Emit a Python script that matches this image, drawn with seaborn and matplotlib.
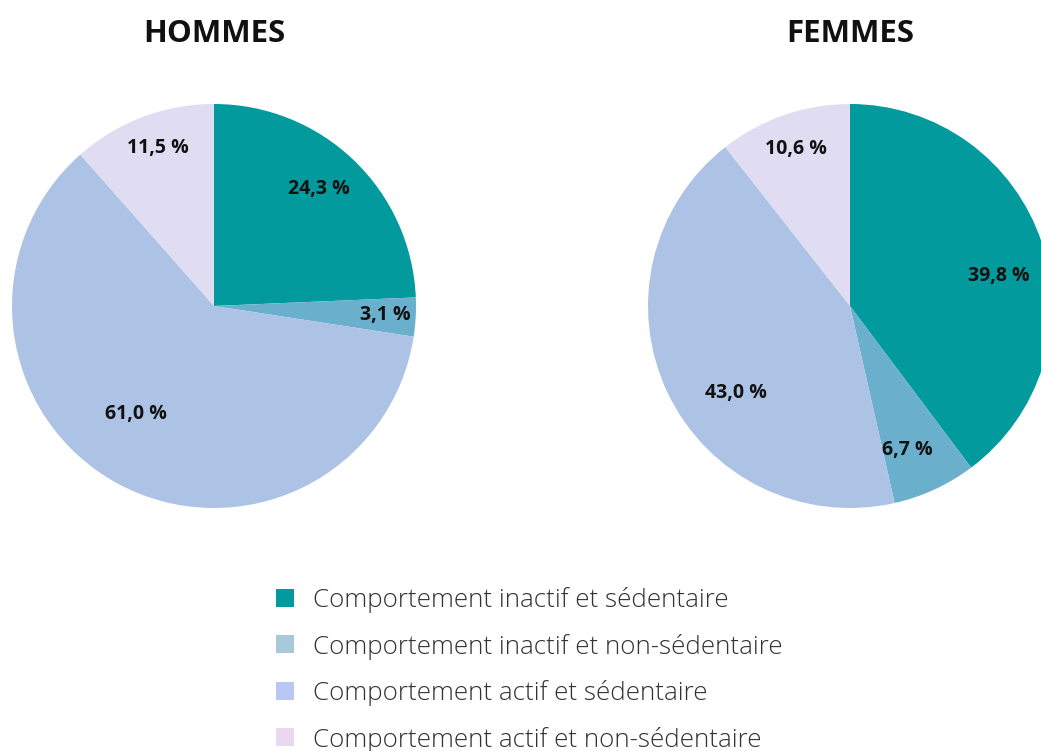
import matplotlib
matplotlib.use("Agg")
import matplotlib.pyplot as plt
import seaborn as sns
from matplotlib.patches import Patch
import numpy as np

# données
categories = ["Comportement inactif et sédentaire",
              "Comportement inactif et non-sédentaire",
              "Comportement actif et sédentaire",
              "Comportement actif et non-sédentaire"]
hommes = [24.3, 3.1, 61.0, 11.5]
femmes = [39.8, 6.7, 43.0, 10.6]
titres = ["HOMMES", "FEMMES"]

sns.set_theme(style="white")
plt.rcParams['font.family'] = ['Open Sans', 'DejaVu Sans']

pie_colors = sns.color_palette(["#039a9e", "#6aafcb", "#adc3e5", "#e0dcf2"])
legend_colors = sns.color_palette(["#029a9c", "#a8c9da", "#b9c7f5", "#ead8f0"])

# placement des étiquettes (style) : distance au centre et décalage angulaire
label_dist = [[0.78, 0.85, 0.66, 0.83], [0.75, 0.77, 0.71, 0.82]]
label_shift = [[2, 0, -7, -1], [-7, -3, 12, 0]]

W, H = 1041, 751
fig = plt.figure(figsize=(W / 100, H / 100), dpi=100)

centres_x = [214, 850]
cy, r = 306, 202


def fmt(v):
    return f"{v:.1f}".replace(".", ",") + " %"


for i, (vals, titre) in enumerate(zip([hommes, femmes], titres)):
    cx = centres_x[i]
    ax = fig.add_axes([(cx - r) / W, (H - cy - r) / H, 2 * r / W, 2 * r / H])
    wedges, _ = ax.pie(vals, colors=pie_colors, startangle=90, counterclock=False,
                       radius=1, wedgeprops=dict(linewidth=0))
    for w, v, d, s in zip(wedges, vals, label_dist[i], label_shift[i]):
        ang = np.deg2rad((w.theta1 + w.theta2) / 2 + s)
        ax.text(d * np.cos(ang), d * np.sin(ang), fmt(v), ha="center", va="center",
                fontsize=14, fontweight="bold", color="#111111")
    ax.set_xlim(-1, 1)
    ax.set_ylim(-1, 1)
    ax.set_aspect("equal")
    ax.axis("off")
    fig.text(cx / W, 1 - 33.5 / H, titre, ha="center", va="center",
             fontsize=22.5, fontweight="bold", color="#111111")

handles = [Patch(facecolor=c, edgecolor="none") for c in legend_colors]
leg = fig.legend(handles, categories, loc="upper left",
                 bbox_to_anchor=(263 / W, 1 - 574 / H), frameon=False,
                 fontsize=18.7, handlelength=0.69, handleheight=0.69,
                 handletextpad=0.73, labelspacing=0.79, borderpad=0)
for t in leg.get_texts():
    t.set_color("#333333")
    t.set_fontweight("light")

fig.savefig("out.png", dpi=100, facecolor="white")
